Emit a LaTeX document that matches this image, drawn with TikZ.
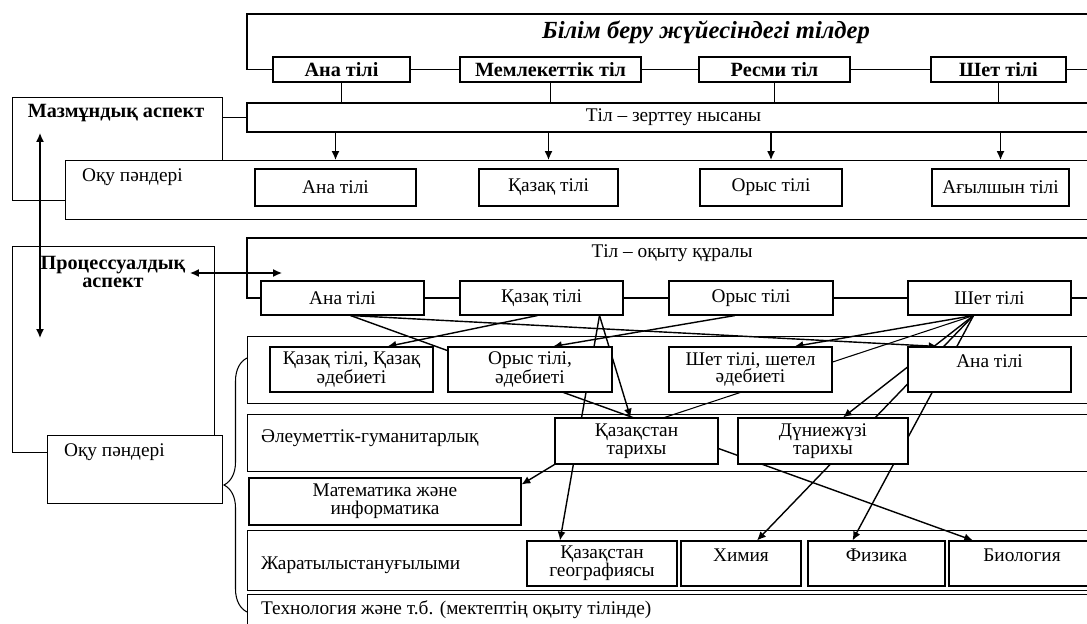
\documentclass[tikz,border=0pt]{standalone}
\usepackage{fontspec}
\setmainfont{Liberation Serif}
\usetikzlibrary{calc, arrows.meta, decorations.pathreplacing}

\pgfdeclarelayer{bands}
\pgfdeclarelayer{links}
\pgfsetlayers{bands,links,main}

\tikzset{
    sz/.style 2 args={minimum width=#1*0.02cm, minimum height=#2*0.02cm},
    txt/.style={inner sep=1pt, font=\fontsize{11}{10}\selectfont},
    box/.style={draw, fill=white, line width=0.6pt, inner sep=1pt, align=center, font=\fontsize{11}{10}\selectfont},
    hbox/.style={box, font=\fontsize{11.5}{10}\selectfont\bfseries},
    frame/.style={draw, fill=white, line width=0.6pt, inner sep=0pt, anchor=north west},
    link/.style={line width=0.6pt},
    arr/.style={line width=0.8pt, -{Latex[length=5pt,width=4.5pt]}},
    darr/.style={line width=0.8pt, {Latex[length=5pt,width=4.5pt]}-{Latex[length=5pt,width=4.5pt]}},
}

\begin{document}
\begin{tikzpicture}[x=0.02cm, y=-0.02cm]
    \useasboundingbox (0,0) rectangle (1087,624);
    \clip (0,0) rectangle (1087,624);

    % Bands
    \begin{pgfonlayer}{bands}
        \node[frame, sz={853}{67}] (langB) at (247,336) {};
        \node[frame, sz={853}{57}] (socB) at (247,414) {};
        \node[frame, sz={853}{60}] (natB) at (247,530) {};
        \node[frame, sz={853}{40}] (techB) at (247,594) {};
    \end{pgfonlayer}

    % Languages in education
    \node[font=\fontsize{14}{14}\selectfont\bfseries\itshape] (title) at (706,32) {Білім беру жүйесіндегі тілдер};
    \node[hbox, sz={137}{25}] (anaT) at (341.5,69.5) {Ана тілі};
    \node[hbox, sz={181}{25}] (memT) at (550.5,69.5) {Мемлекеттік тіл};
    \node[hbox, sz={151}{25}] (resT) at (774.5,69.5) {Ресми тіл};
    \node[hbox, sz={135}{25}] (shetT) at (998.5,69.5) {Шет тілі};
    \node[box, sz={853}{29}] (zert) at (673.5,117.5) {Тіл – зерттеу нысаны};
    \coordinate (topL) at (247,14);

    % Content aspect
    \node[frame, sz={210}{103}] (mazm) at (12,97) {};
    \node[txt, font=\fontsize{11.5}{10}\selectfont\bfseries] (mazmT) at (116,113) {Мазмұндық аспект};
    \node[frame, sz={1035}{59}] (oqu1) at (65,160) {};
    \node[txt, anchor=west] (oqu1T) at (80,177) {Оқу пәндері};
    \node[box, sz={161}{37}] (anaS) at (335.5,187.5) {Ана тілі};
    \node[box, sz={139}{37}] (kazS) at (548.5,187.5) {Қазақ тілі};
    \node[box, sz={142}{37}] (orysS) at (771,187.5) {Орыс тілі};
    \node[box, sz={137}{37}] (agylS) at (1000.5,187.5) {Ағылшын тілі};

    % Process aspect
    \node[frame, sz={202}{206}] (proc) at (12,246) {};
    \node[txt, align=center, font=\fontsize{11.5}{10.5}\selectfont\bfseries] (procT) at (113,272) {Процессуалдық\\аспект};
    \node[frame, sz={175}{68}] (oqu2) at (47,435) {};
    \node[txt, anchor=west] (oqu2T) at (62,452) {Оқу пәндері};
    \node[txt] (oqytT) at (672,253) {Тіл – оқыту құралы};
    \coordinate (midL) at (247,238);
    \node[box, sz={163}{34}] (anaR) at (342.5,298) {Ана тілі};
    \node[box, sz={163}{34}] (kazR) at (541.5,298) {Қазақ тілі};
    \node[box, sz={164}{34}] (orysR) at (751,298) {Орыс тілі};
    \node[box, sz={163}{34}] (shetR) at (989.5,298) {Шет тілі};

    % Subjects
    \node[box, sz={163}{45}] (kzAd) at (351.5,369.5) {Қазақ тілі, Қазақ\\әдебиеті};
    \node[box, sz={164}{45}] (ruAd) at (530,369.5) {Орыс тілі,\\әдебиеті};
    \node[box, sz={163}{45}] (shAd) at (750.5,369.5) {Шет тілі, шетел\\әдебиеті};
    \node[box, sz={163}{45}] (anaL) at (989.5,369.5) {Ана тілі\\\mbox{}};
    \node[txt, anchor=west] (socT) at (259,438) {Әлеуметтік-гуманитарлық};
    \node[box, sz={163}{46}] (kzHist) at (636.5,441) {Қазақстан\\тарихы};
    \node[box, sz={170}{46}] (dzHist) at (823,441) {Дүниежүзі\\тарихы};
    \node[box, sz={272}{47}] (math) at (385,501.5) {Математика және\\информатика};
    \node[txt, anchor=west] (natT) at (259,565) {Жаратылыстануғылыми};
    \node[box, sz={150}{45}] (geo) at (602,563.5) {Қазақстан\\географиясы};
    \node[box, sz={120}{45}] (chem) at (741,563.5) {Химия\\\mbox{}};
    \node[box, sz={137}{45}] (phys) at (876.5,563.5) {Физика\\\mbox{}};
    \node[box, sz={146}{45}] (bio) at (1022,563.5) {Биология\\\mbox{}};
    \node[txt, anchor=west] (techT) at (259,610) {Технология және т.б. (мектептің оқыту тілінде)};

    % Frames and row lines
    \draw[link] (anaT.west) -| (topL) -- (topL -| zert.east);
    \draw[link] (anaT) -- (memT);
    \draw[link] (memT) -- (resT);
    \draw[link] (resT) -- (shetT);
    \draw[link] (shetT.east) -- (shetT.east -| zert.east);
    \draw[link] (anaR.west) -| (midL) -- (midL -| zert.east);
    \draw[link] (anaR) -- (kazR);
    \draw[link] (kazR) -- (orysR);
    \draw[link] (orysR) -- (shetR);
    \draw[link] (shetR.east) -- (shetR.east -| zert.east);
    \draw[link] (zert.west -| mazm.east) -- (zert.west);

    % Study object
    \draw[link] (anaT.south) -- (anaT.south |- zert.north);
    \draw[link] (memT.south) -- (memT.south |- zert.north);
    \draw[link] (resT.south) -- (resT.south |- zert.north);
    \draw[link] (shetT.south) -- (shetT.south |- zert.north);
    \draw[arr] (anaS |- zert.south) -- (anaS |- oqu1.north);
    \draw[arr] (kazS |- zert.south) -- (kazS |- oqu1.north);
    \draw[arr] (orysS |- zert.south) -- (orysS |- oqu1.north);
    \draw[arr] (agylS |- zert.south) -- (agylS |- oqu1.north);

    % Teaching tool
    \begin{pgfonlayer}{links}
        \draw[arr] ($(anaR.south)+(8,0)$) -- ($(bio.north)+(-49,0)$);
        \draw[arr] ($(anaR.south)+(8,0)$) -- ($(anaL.north)+(-52,0)$);
        \draw[arr] ($(kazR.south)+(-4,0)$) -- ($(kzAd.north)+(36,0)$);
        \draw[arr] ($(kazR.south)+(58,0)$) -- ($(kzHist.north)+(-6,0)$);
        \draw[arr] ($(kazR.south)+(58,0)$) -- ($(geo.north)+(-42,0)$);
        \draw[arr] ($(orysR.south)+(-16,0)$) -- ($(ruAd.north)+(23,0)$);
        \draw[link] ($(shetR.south)+(-16,0)$) -- ($(kzHist.north)+(28,0)$);
        \draw[arr] ($(shetR.south)+(-16,0)$) -- ($(shAd.north)+(44,0)$);
        \draw[arr] ($(shetR.south)+(-16,0)$) -- ($(dzHist.north)+(20,0)$);
        \draw[arr] ($(shetR.south)+(-16,0)$) -- ($(chem.north)+(16,0)$);
        \draw[arr] ($(shetR.south)+(-16,0)$) -- ($(phys.north)+(-24,0)$);
    \end{pgfonlayer}
    \draw[arr] (kzHist.south west) -- ($(math.east)+(0,-17)$);

    % Aspect arrows and brace
    \coordinate (vUp) at (40,133);
    \coordinate (vDn) at (40,338);
    \coordinate (hL) at (190,273);
    \coordinate (hR) at (282,273);
    \draw[darr] (vUp) -- (vDn);
    \draw[darr] (hL) -- (hR);
    \draw[link, decorate, decoration={brace, amplitude=0.46cm}] (techB.north west |- 0,612) -- (langB.west |- 0,358);
\end{tikzpicture}
\end{document}
